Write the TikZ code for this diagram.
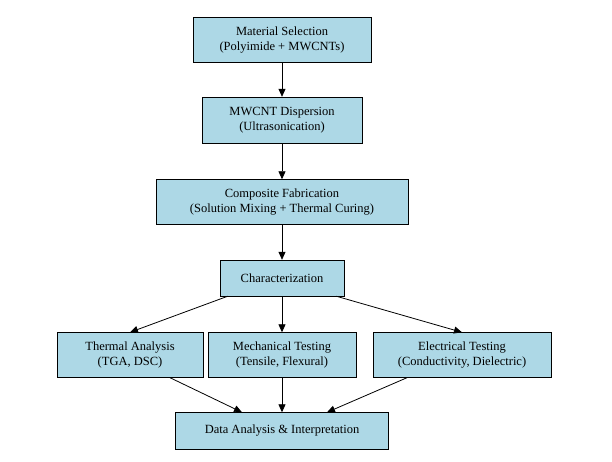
\documentclass[tikz,border=0pt]{standalone}
\usepackage{fontspec}
\setmainfont{Liberation Serif}
\usetikzlibrary{arrows.meta}
\begin{document}
\begin{tikzpicture}[x=1pt,y=-1pt,
  box/.style={draw=black,fill={rgb,255:red,173;green,216;blue,230},align=center,font=\fontsize{12.5}{15}\selectfont,inner sep=0pt},
  arr/.style={-{Triangle[length=8pt,width=7pt]},line width=0.8pt}]
\useasboundingbox (0,0) rectangle (612,462);
\node[box,minimum width=178,minimum height=45] (a) at (282,40) {Material Selection\\(Polyimide + MWCNTs)};
\node[box,minimum width=160,minimum height=46] (b) at (282,120) {MWCNT Dispersion\\(Ultrasonication)};
\node[box,minimum width=252,minimum height=45] (c) at (282,202) {Composite Fabrication\\(Solution Mixing + Thermal Curing)};
\node[box,minimum width=124,minimum height=36] (d) at (282,278) {Characterization};
\node[box,minimum width=146,minimum height=45] (e) at (130,355) {Thermal Analysis\\(TGA, DSC)};
\node[box,minimum width=148,minimum height=45] (f) at (282,355) {Mechanical Testing\\(Tensile, Flexural)};
\node[box,minimum width=178,minimum height=45] (g) at (462,355) {Electrical Testing\\(Conductivity, Dielectric)};
\node[box,minimum width=213,minimum height=37] (h) at (282,431) {Data Analysis \& Interpretation};
\draw[arr] (a) -- (b);
\draw[arr] (b) -- (c);
\draw[arr] (c) -- (d);
\draw[arr] (d.south west) ++(8,0) coordinate (d1) (d1) -- (e.north);
\draw[arr] (d) -- (f);
\draw[arr] (d.south east) ++(-8,0) coordinate (d2) (d2) -- (g.north);
\draw[arr] (e.south) ++(40,0) coordinate (e1) (e1) -- ([xshift=-40]h.north);
\draw[arr] (f) -- (h);
\draw[arr] (g.south) ++(-55,0) coordinate (g1) (g1) -- ([xshift=45]h.north);
\end{tikzpicture}
\end{document}
